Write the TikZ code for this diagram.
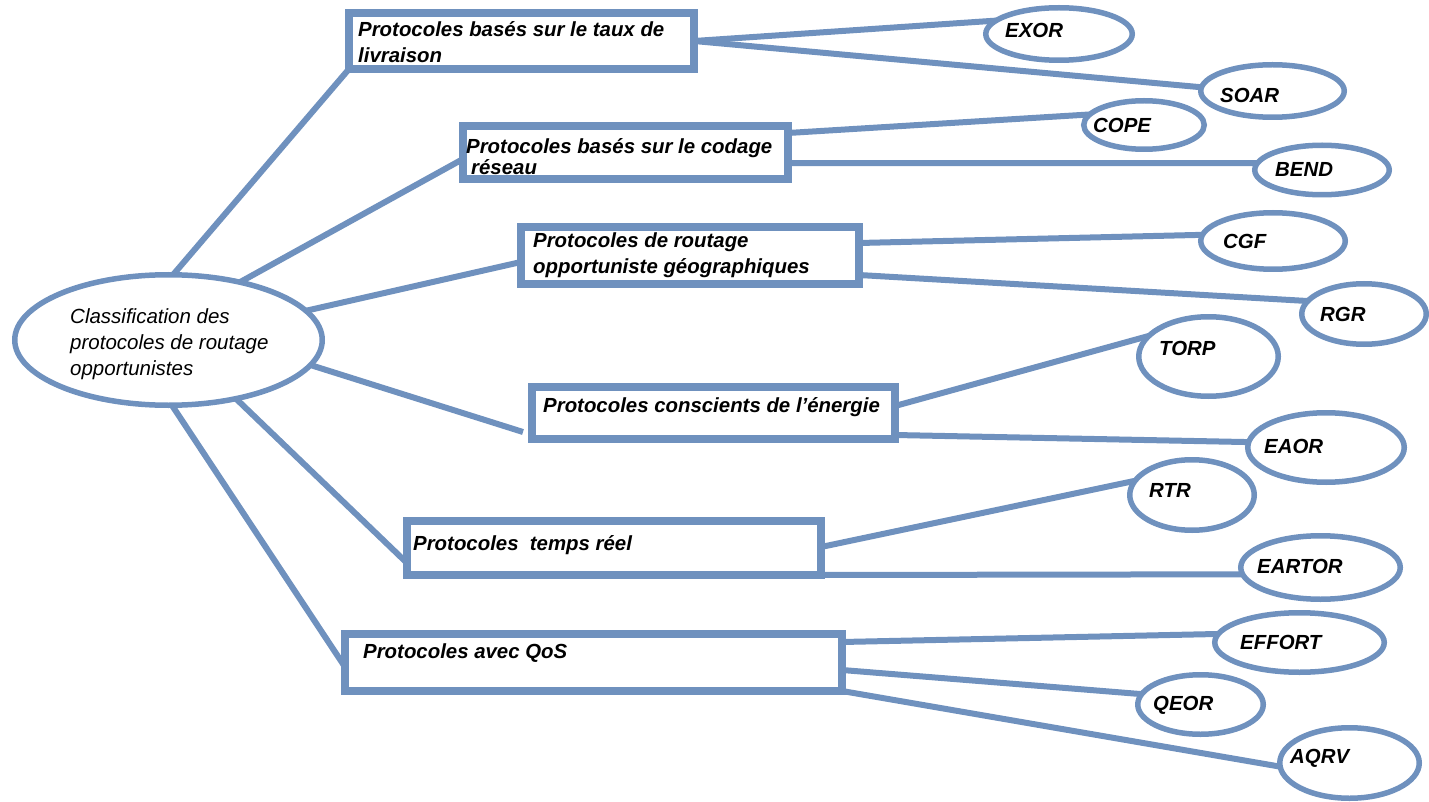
\documentclass[tikz,border=0pt]{standalone}
\usepackage{fontspec}
\setmainfont{Liberation Sans}
\usetikzlibrary{shapes.geometric}
\definecolor{linkblue}{RGB}{111,145,190}
\begin{document}
\begin{tikzpicture}[x=1pt,y=-1pt,
  box/.style={draw=linkblue,line width=7.5pt,rectangle,inner sep=0pt,outer sep=0pt},
  leaf/.style={draw=linkblue,line width=5.5pt,ellipse,inner sep=0pt,outer sep=0pt},
  link/.style={draw=linkblue,line width=6pt},
  boxtext/.style={anchor=base west,inner sep=0pt,align=left,font=\fontsize{20.4}{26}\selectfont\bfseries\itshape},
  leaftext/.style={anchor=base west,inner sep=0pt,font=\fontsize{20.4}{25}\selectfont\bfseries\itshape},
  roottext/.style={anchor=base west,inner sep=0pt,align=left,font=\fontsize{20.5}{26}\selectfont\itshape},
]
\useasboundingbox (0,0) rectangle (1429,802);

% root of the classification (multi-line labels are placed by their last baseline)
\node[leaf,minimum width=307.5pt,minimum height=130.5pt] (root) at (168.5,340) {};
\node[roottext] (rootlbl) at (70,375) {Classification des\\protocoles de routage\\opportunistes};

% protocol families
\node[box,minimum width=345pt,minimum height=56pt] (b1) at (521.5,41) {};
\node[box,minimum width=325pt,minimum height=53pt] (b2) at (625.5,152.5) {};
\node[box,minimum width=338pt,minimum height=57pt] (b3) at (690,255.5) {};
\node[box,minimum width=363pt,minimum height=52pt] (b4) at (713.5,413) {};
\node[box,minimum width=414pt,minimum height=54pt] (b5) at (614,548) {};
\node[box,minimum width=497pt,minimum height=57pt] (b6) at (593.5,662.5) {};

\node[boxtext] (t1) at (358,63) {Protocoles basés sur le taux de\\livraison};
\node[boxtext,font=\fontsize{20.4}{21}\selectfont\bfseries\itshape] (t2) at (466,175) {Protocoles basés sur le codage\\\hspace*{5pt}réseau};
\node[boxtext] (t3) at (533,273) {Protocoles de routage\\opportuniste géographiques};
\node[boxtext] (t4) at (543,412) {Protocoles conscients de l’énergie};
\node[boxtext] (t5) at (413,550) {Protocoles\ \ temps réel};
\node[boxtext] (t6) at (363,658) {Protocoles avec QoS};

% individual protocols
\node[leaf,minimum width=146.5pt,minimum height=52.5pt] (exor) at (1059,34) {};
\node[leaf,minimum width=143.5pt,minimum height=52.5pt] (soar) at (1272.5,91) {};
\node[leaf,minimum width=120.5pt,minimum height=48.5pt] (cope) at (1144,125) {};
\node[leaf,minimum width=134.5pt,minimum height=49.5pt] (bend) at (1322,170) {};
\node[leaf,minimum width=144.5pt,minimum height=56.5pt] (cgf) at (1273,241) {};
\node[leaf,minimum width=124.5pt,minimum height=60.5pt] (rgr) at (1364,314) {};
\node[leaf,minimum width=139.5pt,minimum height=79.5pt] (torp) at (1208.5,356.5) {};
\node[leaf,minimum width=156.5pt,minimum height=69.5pt] (eaor) at (1326,447.5) {};
\node[leaf,minimum width=124.5pt,minimum height=70.5pt] (rtr) at (1192,495) {};
\node[leaf,minimum width=159.5pt,minimum height=63.5pt] (eartor) at (1320.5,567.5) {};
\node[leaf,minimum width=169.5pt,minimum height=59.5pt] (effort) at (1299.5,642.5) {};
\node[leaf,minimum width=125.5pt,minimum height=59.5pt] (qeor) at (1200.5,704.5) {};
\node[leaf,minimum width=139.5pt,minimum height=70.5pt] (aqrv) at (1349.5,763) {};

\node[leaftext] (lexor) at (1005,38) {EXOR};
\node[leaftext] (lsoar) at (1220,103) {SOAR};
\node[leaftext] (lcope) at (1093,133) {COPE};
\node[leaftext] (lbend) at (1275,177) {BEND};
\node[leaftext] (lcgf) at (1223,249) {CGF};
\node[leaftext] (lrgr) at (1320,321) {RGR};
\node[leaftext] (ltorp) at (1159,355) {TORP};
\node[leaftext] (leaor) at (1264,453) {EAOR};
\node[leaftext] (lrtr) at (1149,497) {RTR};
\node[leaftext] (leartor) at (1257,573) {EARTOR};
\node[leaftext] (leffort) at (1240,649) {EFFORT};
\node[leaftext] (lqeor) at (1153,710) {QEOR};
\node[leaftext] (laqrv) at (1290,763) {AQRV};

% root to families
\draw[link] (root.86) -- (b1.south west);
\draw[link] (root.39) -- ([yshift=-6.5pt]b2.west);
\draw[link] (root.12) -- ([yshift=-6.5pt]b3.west);
\draw[link] (root.-10) -- ([xshift=-9pt,yshift=-19pt]b4.west);
\draw[link] (root.-41) -- ([yshift=-15pt]b5.west);
\draw[link] (root.-87) -- ([yshift=-4.5pt]b6.west);

% families to protocols
\draw[link] (b1.east) -- (exor.168);
\draw[link] (b1.east) -- (soar.177);
\draw[link] ([yshift=19.5pt]b2.east) -- (cope.169);
\draw[link] ([yshift=-10.5pt]b2.east) -- (bend.174);
\draw[link] ([yshift=12.5pt]b3.east) -- (cgf.175);
\draw[link] ([yshift=-19.5pt]b3.east) -- (rgr.167);
\draw[link] ([yshift=7pt]b4.east) -- (torp.161);
\draw[link] ([yshift=-22pt]b4.east) -- (eaor.176);
\draw[link] ([yshift=1pt]b5.east) -- (rtr.166);
\draw[link] (b5.south east) -- (eartor.185);
\draw[link] ([yshift=20.5pt]b6.east) -- (effort.174);
\draw[link] ([yshift=-7.5pt]b6.east) -- (qeor.170);
\draw[link] (b6.south east) -- (aqrv.183);
\end{tikzpicture}
\end{document}
